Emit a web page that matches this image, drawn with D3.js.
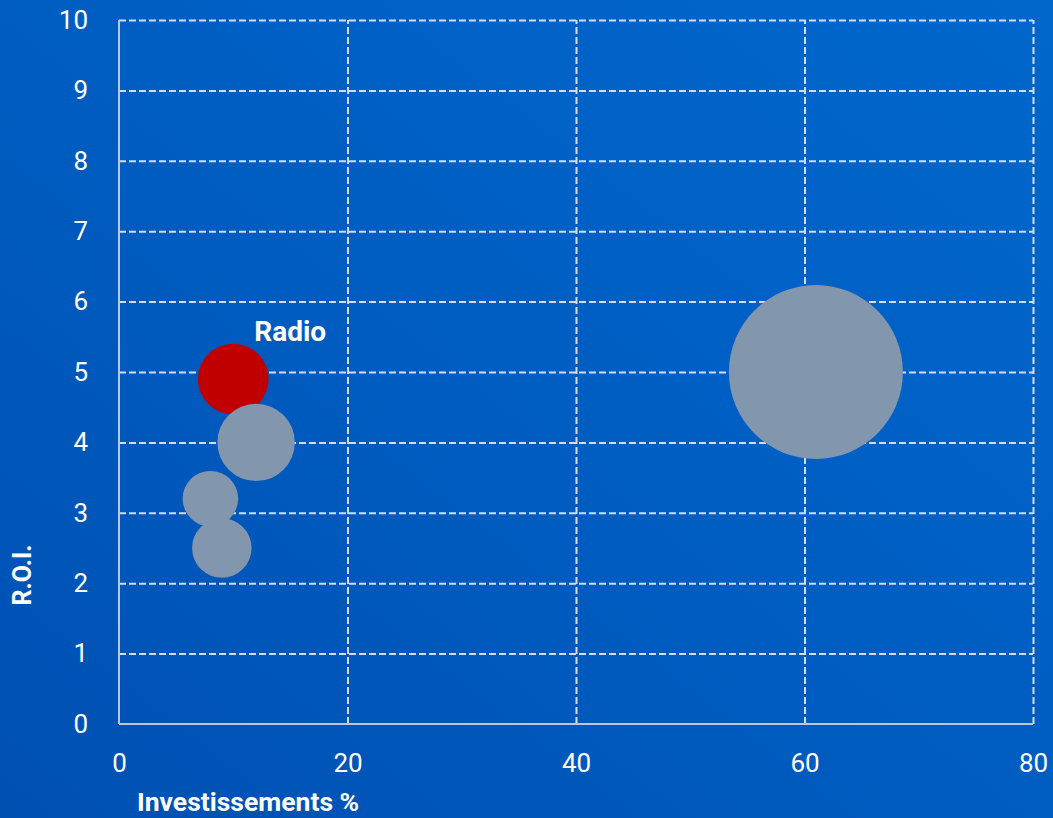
<!DOCTYPE html>
<html>
<head>
<meta charset="utf-8">
<script src="https://cdn.jsdelivr.net/npm/d3@7"></script>
<style>
  html, body { margin: 0; padding: 0; overflow: hidden; }
  svg { display: block; }
</style>
</head>
<body>
<svg id="chart" width="1053" height="818"></svg>
<script>
// Data
const names = ["Radio", "Média 2", "Média 3", "Média 4", "Média 5"];
const investments = [10, 12, 8, 9, 61];   // x: Investissements %
const roi = [4.9, 4.0, 3.2, 2.5, 5.0];    // y: R.O.I.
const sizes = [16.5, 19.8, 10.2, 11.7, 100]; // bubble size
const highlighted = [true, false, false, false, false];
const xTicks = [0, 20, 40, 60, 80];
const yTicks = [0, 1, 2, 3, 4, 5, 6, 7, 8, 9, 10];

const W = 1053, H = 818;
const margin = { left: 119, right: 20, top: 20, bottom: 94 };
const svg = d3.select("#chart");

// background gradient
const defs = svg.append("defs");
const grad = defs.append("linearGradient").attr("id", "bg")
  .attr("x1", "0%").attr("y1", "100%").attr("x2", "100%").attr("y2", "0%");
grad.append("stop").attr("offset", "0%").attr("stop-color", "#0050b2");
grad.append("stop").attr("offset", "55%").attr("stop-color", "#005ec3");
grad.append("stop").attr("offset", "100%").attr("stop-color", "#0067cc");
svg.append("rect").attr("width", W).attr("height", H).attr("fill", "url(#bg)");

const x = d3.scaleLinear().domain([0, 80]).range([margin.left, W - margin.right]);
const y = d3.scaleLinear().domain([0, 10]).range([H - margin.bottom, margin.top]);
const r = d3.scaleSqrt().domain([0, 100]).range([0, 87]);

const font = "Roboto, 'Open Sans', sans-serif";
const gridColor = "#d4dcea";

// Horizontal grid
const yGrid = d3.axisLeft(y).tickValues(yTicks.filter(d => d > 0))
  .tickSize(-(x(80) - x(0))).tickFormat("");
svg.append("g").attr("transform", `translate(${x(0)},0)`).call(yGrid)
  .call(g => g.select(".domain").remove())
  .call(g => g.selectAll("line").attr("stroke", gridColor).attr("stroke-width", 2)
    .attr("stroke-dasharray", "7,3"));

// Vertical grid
const xGrid = d3.axisBottom(x).tickValues(xTicks.filter(d => d > 0))
  .tickSize(-(y(0) - y(10))).tickFormat("");
svg.append("g").attr("transform", `translate(0,${y(0)})`).call(xGrid)
  .call(g => g.select(".domain").remove())
  .call(g => g.selectAll("line").attr("stroke", gridColor).attr("stroke-width", 2)
    .attr("stroke-dasharray", "7,3"));

// Axis lines
svg.append("line").attr("x1", x(0)).attr("x2", x(0)).attr("y1", y(10)).attr("y2", y(0))
  .attr("stroke", "#bfc6d2").attr("stroke-width", 2);
svg.append("line").attr("x1", x(0)).attr("x2", x(80)).attr("y1", y(0)).attr("y2", y(0))
  .attr("stroke", "#bfc6d2").attr("stroke-width", 2);

// Tick labels
const yAxis = d3.axisLeft(y).tickValues(yTicks).tickSize(0).tickPadding(31);
svg.append("g").attr("transform", `translate(${x(0)},0)`).call(yAxis)
  .call(g => g.select(".domain").remove())
  .call(g => g.selectAll("text").attr("fill", "#ffffff")
    .style("font-family", font).style("font-size", "26px"));

const xAxis = d3.axisBottom(x).tickValues(xTicks).tickSize(0).tickPadding(30);
svg.append("g").attr("transform", `translate(0,${y(0)})`).call(xAxis)
  .call(g => g.select(".domain").remove())
  .call(g => g.selectAll("text").attr("fill", "#ffffff")
    .style("font-family", font).style("font-size", "26px"));

// Bubbles
const data = names.map((n, i) => ({ name: n, x: investments[i], y: roi[i], s: sizes[i], hl: highlighted[i] }));
svg.append("g").selectAll("circle").data(data).join("circle")
  .attr("cx", d => x(d.x)).attr("cy", d => y(d.y)).attr("r", d => r(d.s))
  .attr("fill", d => d.hl ? "#c00000" : "#8296ae");

// Label for highlighted
data.filter(d => d.hl).forEach(d => {
  svg.append("text").attr("x", x(d.x) + 21).attr("y", y(d.y) - 38)
    .attr("fill", "#ffffff").style("font-family", font).style("font-weight", "bold")
    .style("font-size", "28px").text(d.name);
});

// Axis titles
svg.append("text").attr("x", 137).attr("y", 811)
  .attr("fill", "#ffffff").style("font-family", font).style("font-weight", "bold")
  .style("font-size", "26.5px").text("Investissements %");
svg.append("text").attr("transform", "translate(31,575) rotate(-90)")
  .attr("text-anchor", "middle")
  .attr("fill", "#ffffff").style("font-family", font).style("font-weight", "bold")
  .style("font-size", "25px").text("R.O.I.");
</script>
</body>
</html>
